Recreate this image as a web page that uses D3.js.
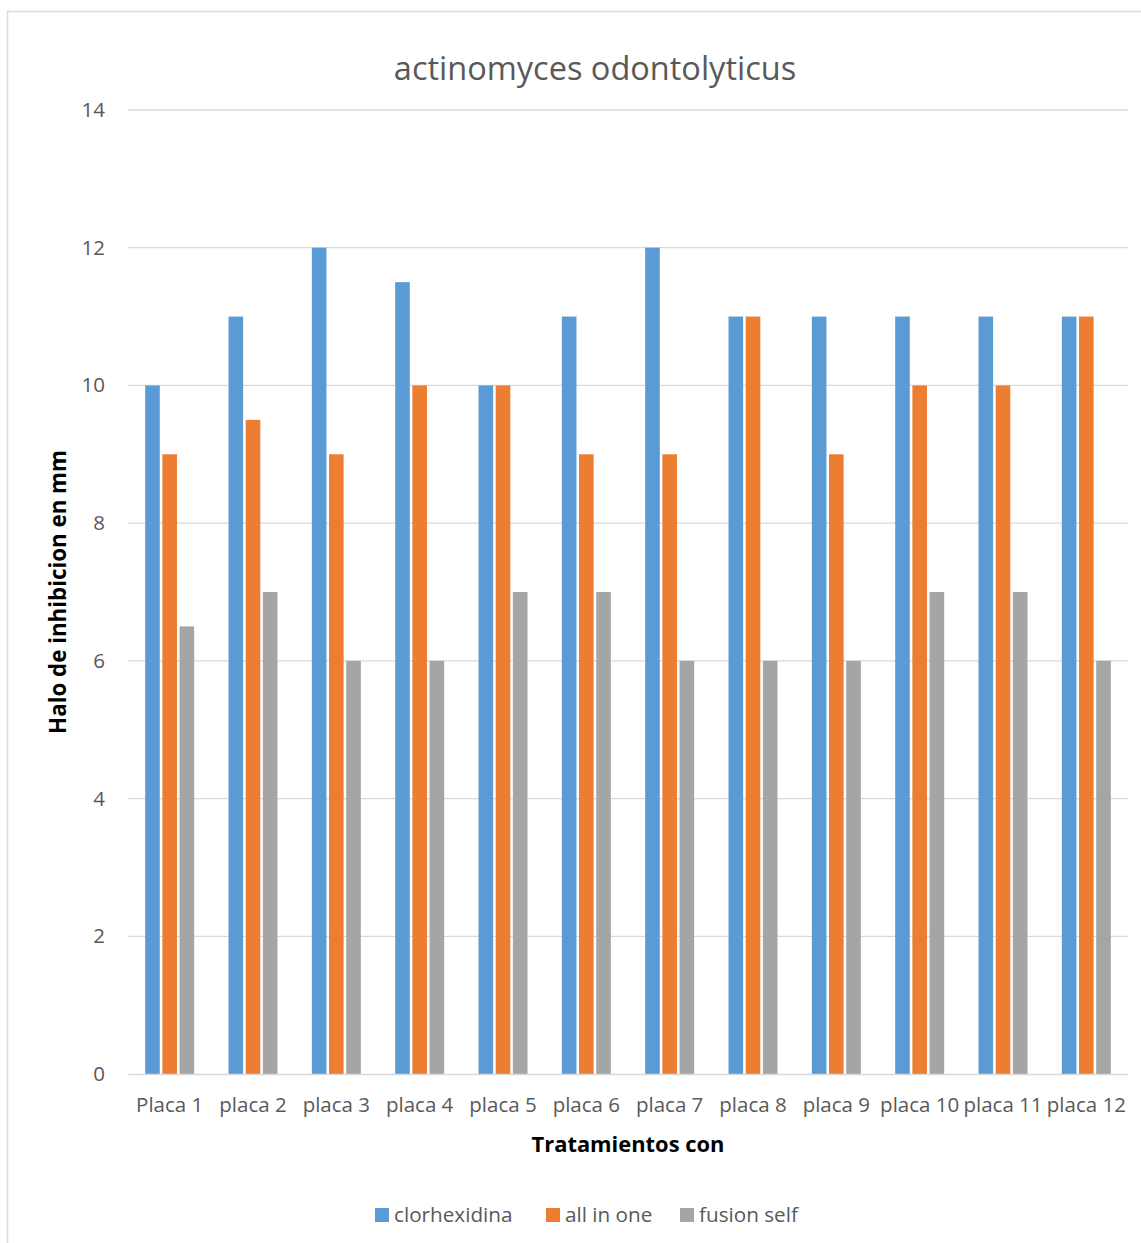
<!DOCTYPE html>
<html><head><meta charset="utf-8">
<script src="https://cdn.jsdelivr.net/npm/d3@7"></script>
<style>body{margin:0;background:#fff}svg{display:block;font-family:"Open Sans",sans-serif}</style>
</head><body>
<svg id="c" width="1141" height="1243"></svg>
<script>
const categories = ["Placa 1","placa 2","placa 3","placa 4","placa 5","placa 6","placa 7","placa 8","placa 9","placa 10","placa 11","placa 12"];
const seriesNames = ["clorhexidina","all in one","fusion self"];
const clorhexidina = [10,11,12,11.5,10,11,12,11,11,11,11,11];
const allInOne = [9,9.5,9,10,10,9,9,11,9,10,10,11];
const fusionSelf = [6.5,7,6,6,7,7,6,6,6,7,7,6];
const yTicks = [0,2,4,6,8,10,12,14];
const colors = ["#5B9BD5","#ED7D31","#A5A5A5"];

const seriesVals = [clorhexidina, allInOne, fusionSelf];
const svg = d3.select("#c");
const M = {left:128, right:1128, top:110, bottom:1074};

svg.append("rect").attr("x",7.5).attr("y",11.5).attr("width",1200).attr("height",1300)
  .attr("fill","#fff").attr("stroke","#D9D9D9").attr("stroke-width",1.5);

const x0 = d3.scaleBand().domain(categories).range([M.left,M.right]).padding(0);
const x1 = d3.scaleBand().domain(seriesNames).range([0,x0.bandwidth()]).paddingInner(0.15).paddingOuter(1.0);
const y = d3.scaleLinear().domain([0,14]).range([M.bottom,M.top]);

// gridlines
svg.append("g").selectAll("line").data(yTicks.filter(t=>t>0)).join("line")
  .attr("x1",M.left).attr("x2",M.right).attr("y1",d=>y(d)).attr("y2",d=>y(d))
  .attr("stroke","#D9D9D9").attr("stroke-width",1.3);

// y axis labels
const yAxis = d3.axisLeft(y).tickValues(yTicks).tickSize(0).tickPadding(0).tickFormat(d3.format("d"));
const ya = svg.append("g").attr("transform",`translate(105,0)`).call(yAxis);
ya.select(".domain").remove();
ya.selectAll("text").attr("font-size",20.5).attr("fill","#595959").attr("font-family","Open Sans");

// bars
const g = svg.append("g");
categories.forEach((c,i)=>{
  seriesNames.forEach((s,j)=>{
    g.append("rect")
      .attr("x",x0(c)+x1(s)).attr("width",x1.bandwidth())
      .attr("y",y(seriesVals[j][i])).attr("height",y(0)-y(seriesVals[j][i]))
      .attr("fill",colors[j]);
  });
});

// x axis
const xAxis = d3.axisBottom(x0).tickSize(0).tickPadding(0);
const xa = svg.append("g").attr("transform",`translate(0,${M.bottom})`).call(xAxis);
xa.select(".domain").attr("stroke","#D9D9D9").attr("stroke-width",1.5);
xa.selectAll("text").attr("font-size",20.5).attr("fill","#595959").attr("dy","1.85em").attr("font-family","Open Sans");

// title
svg.append("text").attr("x",595).attr("y",80).attr("text-anchor","middle")
  .attr("font-size",32.5).attr("fill","#595959").text("actinomyces odontolyticus");

// axis titles
svg.append("text").attr("transform","translate(66,592) rotate(-90)").attr("text-anchor","middle")
  .attr("font-size",22.3).attr("font-weight","bold").attr("fill","#000").text("Halo de inhibicion en mm");
svg.append("text").attr("x",628).attr("y",1152).attr("text-anchor","middle")
  .attr("font-size",21.9).attr("font-weight","bold").attr("fill","#000").text("Tratamientos con");

// legend
const legendX = [375,546,680];
const lg = svg.append("g");
seriesNames.forEach((s,j)=>{
  lg.append("rect").attr("x",legendX[j]).attr("y",1208).attr("width",14).attr("height",14).attr("fill",colors[j]);
  lg.append("text").attr("x",legendX[j]+19).attr("y",1222).attr("font-size",20.7).attr("fill","#595959").text(s);
});
</script>
</body></html>
